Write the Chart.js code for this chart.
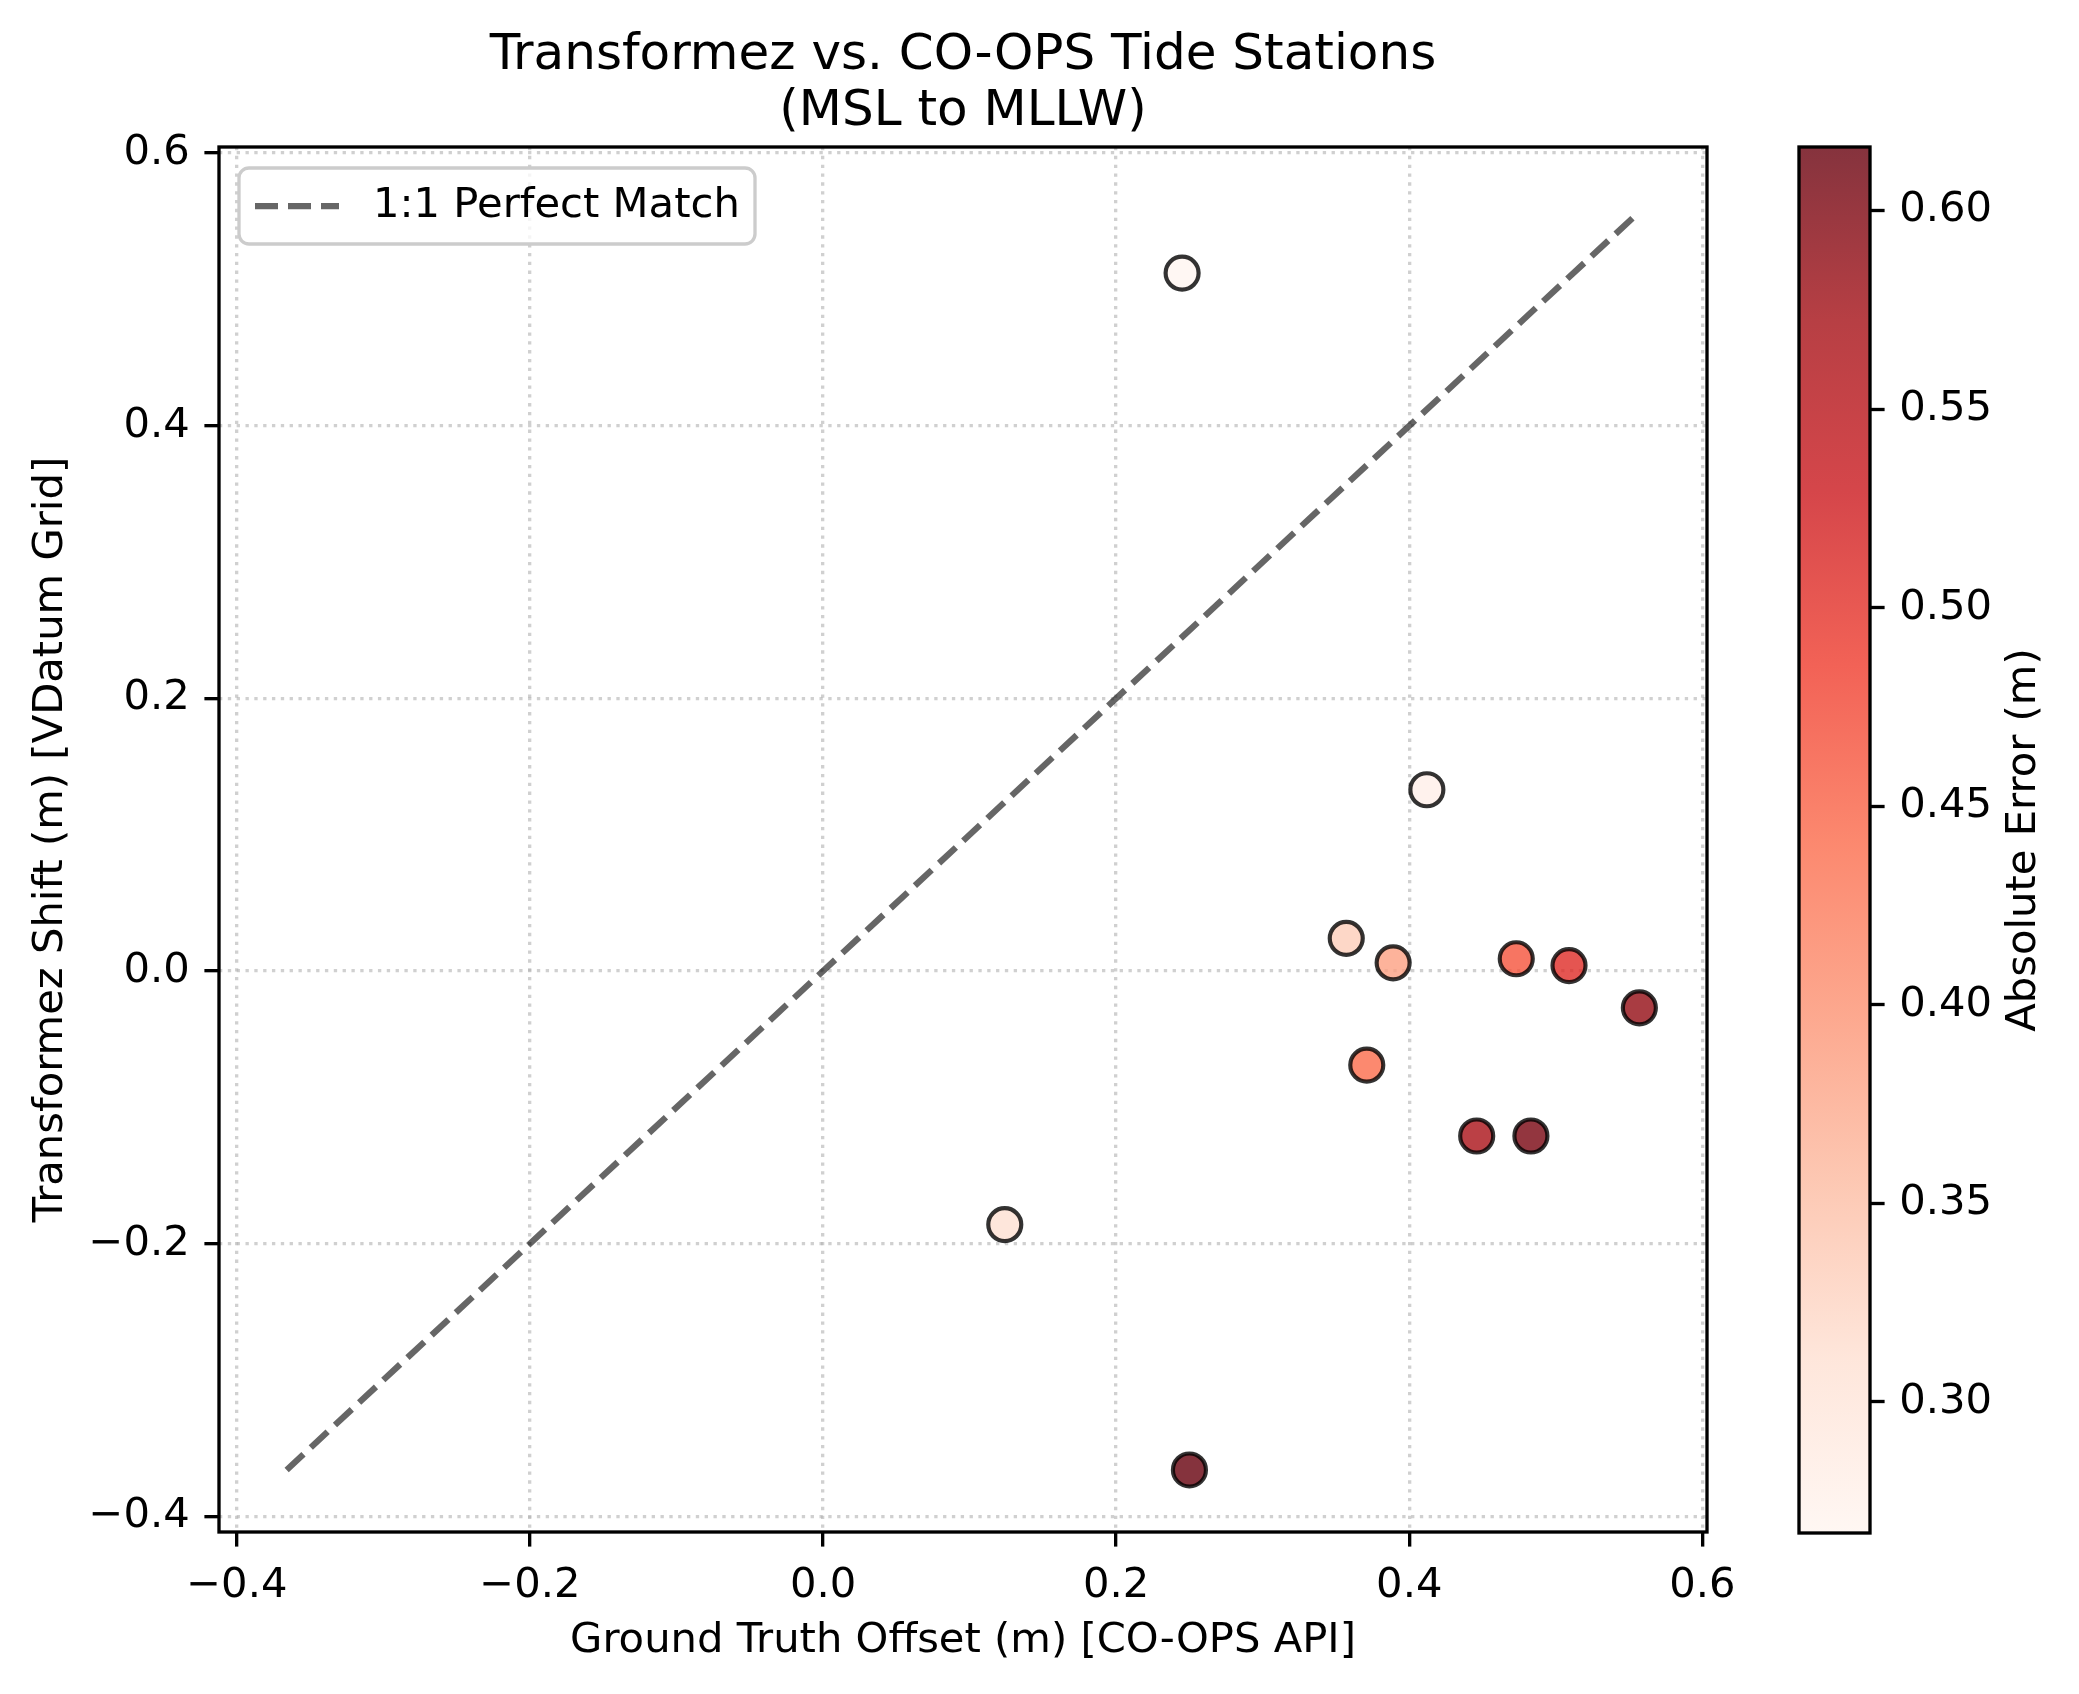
<!DOCTYPE html>
<html>
<head>
<meta charset="utf-8">
<script src="https://cdn.jsdelivr.net/npm/chart.js@4"></script>
<style>
  html, body { margin: 0; padding: 0; background: #ffffff; }
  #wrap { position: relative; width: 2079px; height: 1694px; }
  #mainChart { position: absolute; left: 0; top: 0; }
  #cbarChart { position: absolute; left: 1700px; top: 0; }
</style>
</head>
<body>
<div id="wrap">
  <canvas id="mainChart" width="1926" height="1694"></canvas>
  <canvas id="cbarChart" width="379" height="1694"></canvas>
</div>
<script>
// values
var ground_truth_offset = [0.245, 0.412, 0.357, 0.389, 0.473, 0.509, 0.557, 0.371, 0.446, 0.483, 0.124, 0.250];
var transformez_shift = [0.512, 0.133, 0.024, 0.006, 0.009, 0.004, -0.027, -0.069, -0.121, -0.121, -0.186, -0.366];
var absolute_error = [0.267, 0.279, 0.333, 0.383, 0.464, 0.505, 0.584, 0.440, 0.567, 0.604, 0.310, 0.616];
var match_line = [-0.366, 0.557];
var axis_ticks = [-0.4, -0.2, 0.0, 0.2, 0.4, 0.6];
var cbar_ticks = [0.30, 0.35, 0.40, 0.45, 0.50, 0.55, 0.60];
var y_limits = [-0.4115, 0.6045];

var title_lines = ["Transformez vs. CO-OPS Tide Stations", "(MSL to MLLW)"];
var x_label = "Ground Truth Offset (m) [CO-OPS API]";
var y_label = "Transformez Shift (m) [VDatum Grid]";
var cbar_label = "Absolute Error (m)";
var legend_label = "1:1 Perfect Match";

// matplotlib "Reds" colormap stops
var reds = [
  [255, 245, 240], [254, 224, 210], [252, 187, 161], [252, 146, 114], [251, 106, 74],
  [239, 59, 44], [203, 24, 29], [165, 15, 21], [103, 0, 13]
];
var ALPHA = 0.8;

function reds_color(t, alpha) {
  t = Math.min(1, Math.max(0, t));
  var pos = t * (reds.length - 1);
  var i = Math.min(reds.length - 2, Math.floor(pos));
  var f = pos - i;
  var c = [0, 1, 2].map(function (k) {
    return Math.round(reds[i][k] + (reds[i + 1][k] - reds[i][k]) * f);
  });
  return "rgba(" + c[0] + "," + c[1] + "," + c[2] + "," + alpha + ")";
}

var err_min = Math.min.apply(null, absolute_error);
var err_max = Math.max.apply(null, absolute_error);

function fmt_tick(v, digits) {
  if (Math.abs(v) < 1e-9) v = 0;
  return v.toFixed(digits).replace("-", "\u2212");
}

// x limits as matplotlib autoscale: data range plus 5% margin
var x_vals = ground_truth_offset.concat(match_line);
var lo = Math.min.apply(null, x_vals);
var hi = Math.max.apply(null, x_vals);
var margin = (hi - lo) * 0.05;
var x_min = lo - margin;
var x_max = hi + margin;

Chart.defaults.font.family = "'DejaVu Sans', 'Liberation Sans', sans-serif";
Chart.defaults.font.size = 41.7;
Chart.defaults.color = "#000000";

var FS = 41.7;
var SPINE = 3.33;
var TICK_LEN = 14.6;

var point_data = ground_truth_offset.map(function (x, i) {
  return { x: x, y: transformez_shift[i] };
});
var point_colors = absolute_error.map(function (e) {
  return reds_color((e - err_min) / (err_max - err_min), ALPHA);
});
var line_data = match_line.map(function (v) {
  return { x: v, y: v };
});

var line_style = { color: "rgba(0,0,0,0.6)", width: 6.25, dash: [23, 10] };

var spines_plugin = {
  id: "spines",
  afterDraw: function (chart) {
    var a = chart.chartArea;
    var ctx = chart.ctx;
    ctx.save();
    ctx.strokeStyle = "#000000";
    ctx.lineWidth = SPINE;
    ctx.strokeRect(a.left, a.top, a.right - a.left, a.bottom - a.top);
    ctx.restore();
  }
};

var legend_plugin = {
  id: "boxlegend",
  afterDraw: function (chart) {
    var a = chart.chartArea;
    var ctx = chart.ctx;
    var x0 = a.left + 20, y0 = a.top + 21, w = 516, h = 76, r = 10;
    ctx.save();
    ctx.beginPath();
    ctx.roundRect(x0, y0, w, h, r);
    ctx.fillStyle = "rgba(255,255,255,0.8)";
    ctx.fill();
    ctx.strokeStyle = "rgba(204,204,204,1)";
    ctx.lineWidth = SPINE;
    ctx.stroke();
    var cy = y0 + h / 2;
    ctx.beginPath();
    ctx.setLineDash(line_style.dash);
    ctx.strokeStyle = line_style.color;
    ctx.lineWidth = line_style.width;
    ctx.moveTo(x0 + 16, cy);
    ctx.lineTo(x0 + 100, cy);
    ctx.stroke();
    ctx.setLineDash([]);
    ctx.fillStyle = "#000000";
    ctx.font = FS + "px 'DejaVu Sans'";
    ctx.textBaseline = "middle";
    ctx.textAlign = "left";
    ctx.fillText(legend_label, x0 + 134, cy);
    ctx.restore();
  }
};

var grid_opts = {
  color: "rgba(176,176,176,0.6)",
  lineWidth: 3.33,
  drawTicks: true,
  tickLength: TICK_LEN,
  tickColor: "#000000",
  tickWidth: SPINE
};

function fixed_ticks(scale) {
  scale.ticks = axis_ticks.map(function (v) { return { value: v }; });
}

var mainChart = new Chart(document.getElementById("mainChart"), {
  type: "scatter",
  data: {
    datasets: [
      {
        label: "stations",
        data: point_data,
        backgroundColor: point_colors,
        borderColor: "rgba(0,0,0,0.8)",
        borderWidth: 4.17,
        pointRadius: 16.5,
        pointHoverRadius: 16.5
      },
      {
        label: legend_label,
        data: line_data,
        showLine: true,
        borderColor: line_style.color,
        borderWidth: line_style.width,
        borderDash: line_style.dash,
        pointRadius: 0,
        fill: false
      }
    ]
  },
  options: {
    responsive: false,
    animation: false,
    events: [],
    layout: { padding: 0 },
    plugins: {
      legend: { display: false },
      tooltip: { enabled: false },
      title: {
        display: true,
        text: title_lines,
        font: { size: 50, weight: "normal", lineHeight: 1.12 },
        color: "#000000",
        padding: { top: 28, bottom: 7 }
      }
    },
    scales: {
      x: {
        type: "linear",
        min: x_min,
        max: x_max,
        afterBuildTicks: fixed_ticks,
        afterFit: function (scale) { scale.height = 162; },
        ticks: {
          padding: 14.6,
          maxRotation: 0,
          callback: function (v) { return fmt_tick(v, 1); }
        },
        grid: grid_opts,
        border: { display: false, dash: [3.33, 5.5] },
        title: { display: true, text: x_label, padding: { top: 0, bottom: 28 } }
      },
      y: {
        type: "linear",
        min: y_limits[0],
        max: y_limits[1],
        afterBuildTicks: fixed_ticks,
        afterFit: function (scale) { scale.width = 219; },
        ticks: {
          padding: 14.6,
          callback: function (v) { return fmt_tick(v, 1); }
        },
        grid: grid_opts,
        border: { display: false, dash: [3.33, 5.5] },
        title: { display: true, text: y_label, padding: { top: 26, bottom: 0 } }
      },
      // empty right axis that only reserves the room where the colorbar sits
      yspace: {
        type: "linear",
        position: "right",
        min: 0,
        max: 1,
        afterFit: function (scale) { scale.width = 219; },
        ticks: { display: false },
        grid: { display: false, drawTicks: false },
        border: { display: false },
        title: { display: false }
      }
    }
  },
  plugins: [spines_plugin, legend_plugin]
});

var cbar_plugin = {
  id: "colorbar",
  beforeDatasetsDraw: function (chart) {
    var a = chart.chartArea;
    var ctx = chart.ctx;
    var grad = ctx.createLinearGradient(0, a.bottom, 0, a.top);
    for (var i = 0; i < reds.length; i++) {
      grad.addColorStop(i / (reds.length - 1), reds_color(i / (reds.length - 1), ALPHA));
    }
    ctx.save();
    ctx.fillStyle = grad;
    ctx.fillRect(a.left, a.top, a.right - a.left, a.bottom - a.top);
    ctx.restore();
  },
  afterDraw: function (chart) {
    var a = chart.chartArea;
    var ctx = chart.ctx;
    ctx.save();
    ctx.strokeStyle = "#000000";
    ctx.lineWidth = SPINE;
    ctx.strokeRect(a.left, a.top, a.right - a.left, a.bottom - a.top);
    ctx.translate(324, (a.top + a.bottom) / 2);
    ctx.rotate(-Math.PI / 2);
    ctx.fillStyle = "#000000";
    ctx.font = FS + "px 'DejaVu Sans'";
    ctx.textAlign = "center";
    ctx.textBaseline = "middle";
    ctx.fillText(cbar_label, 0, 0);
    ctx.restore();
  }
};

var cbarChart = new Chart(document.getElementById("cbarChart"), {
  type: "scatter",
  data: { datasets: [] },
  options: {
    responsive: false,
    animation: false,
    events: [],
    layout: { padding: { left: 99, right: 0, top: 147, bottom: 161 } },
    plugins: { legend: { display: false }, tooltip: { enabled: false }, title: { display: false } },
    scales: {
      x: { display: false, min: 0, max: 1 },
      y: {
        type: "linear",
        position: "right",
        min: err_min,
        max: err_max,
        afterBuildTicks: function (scale) {
          scale.ticks = cbar_ticks.map(function (v) { return { value: v }; });
        },
        afterFit: function (scale) { scale.width = 209; },
        ticks: {
          padding: 14.6,
          callback: function (v) { return fmt_tick(v, 2); }
        },
        grid: {
          drawOnChartArea: false,
          drawTicks: true,
          tickLength: TICK_LEN,
          tickColor: "#000000",
          tickWidth: SPINE,
          color: "#000000"
        },
        border: { display: false }
      }
    }
  },
  plugins: [cbar_plugin]
});
</script>
</body>
</html>
